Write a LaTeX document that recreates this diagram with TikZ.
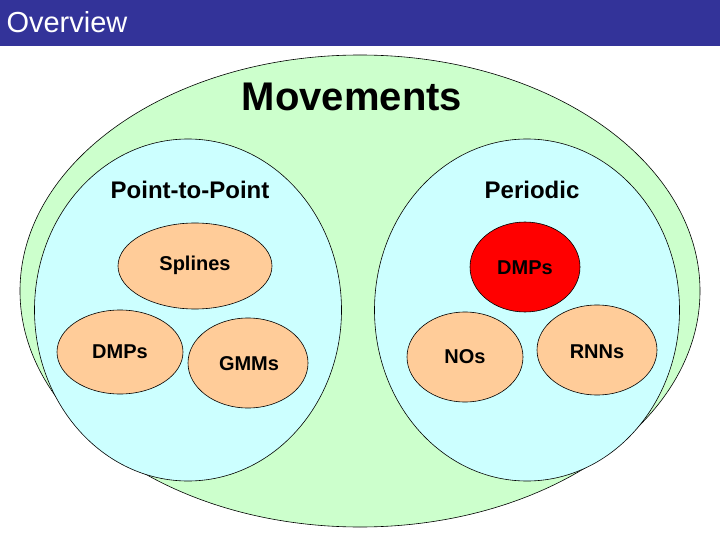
\documentclass[tikz,border=0pt]{standalone}
\usepackage{fontspec}
\setmainfont{Liberation Sans}
\usetikzlibrary{shapes.geometric}
\definecolor{bar}{HTML}{333399}
\definecolor{lgreen}{HTML}{CCFFCC}
\definecolor{lcyan}{HTML}{CCFFFF}
\definecolor{lorange}{HTML}{FFCC99}
\begin{document}
\begin{tikzpicture}[x=1pt,y=-1pt,
  big/.style={ellipse,draw=black,line width=0.6pt,inner sep=0pt},
  small/.style={big,fill=lorange},
  st/.style={font=\bfseries\fontsize{20}{22}\selectfont},
  lbl/.style={font=\bfseries\fontsize{24}{26}\selectfont}]
\useasboundingbox (0,0) rectangle (720,540);
\fill[white] (0,0) rectangle (720,540);
\fill[bar] (0,0) rectangle (720,46);
\node[anchor=west,text=white,font=\fontsize{29}{30}\selectfont] (ov) at (3,22) {Overview};
\node[big,fill=lgreen,minimum width=680pt,minimum height=472pt] (mov) at (360,291) {};
\node[font=\bfseries\fontsize{40}{44}\selectfont] (movt) at (352,97) {Movements};
\node[big,fill=lcyan,minimum width=307pt,minimum height=342pt] (ptp) at (188,310) {};
\node[big,fill=lcyan,minimum width=305pt,minimum height=342pt] (per) at (527,310) {};
\node[lbl] (ptpt) at (190,190) {Point-to-Point};
\node[lbl] (pert) at (532,190) {Periodic};
\node[small,minimum width=154pt,minimum height=86pt] (spl) at (195,266) {};
\node[st] at (195,265) {Splines};
\node[small,minimum width=126pt,minimum height=84pt] (dmpl) at (120,352) {};
\node[st] at (120,352) {DMPs};
\node[small,minimum width=120pt,minimum height=90pt] (gmm) at (248,363) {};
\node[st] at (249,364) {GMMs};
\node[small,fill=red,minimum width=110pt,minimum height=90pt] (dmpr) at (525,267) {};
\node[st] at (525,268) {DMPs};
\node[small,minimum width=116pt,minimum height=90pt] (nos) at (465,357) {};
\node[st] at (465,357) {NOs};
\node[small,minimum width=120pt,minimum height=90pt] (rnn) at (597,350) {};
\node[st] at (597,352) {RNNs};
\end{tikzpicture}
\end{document}
